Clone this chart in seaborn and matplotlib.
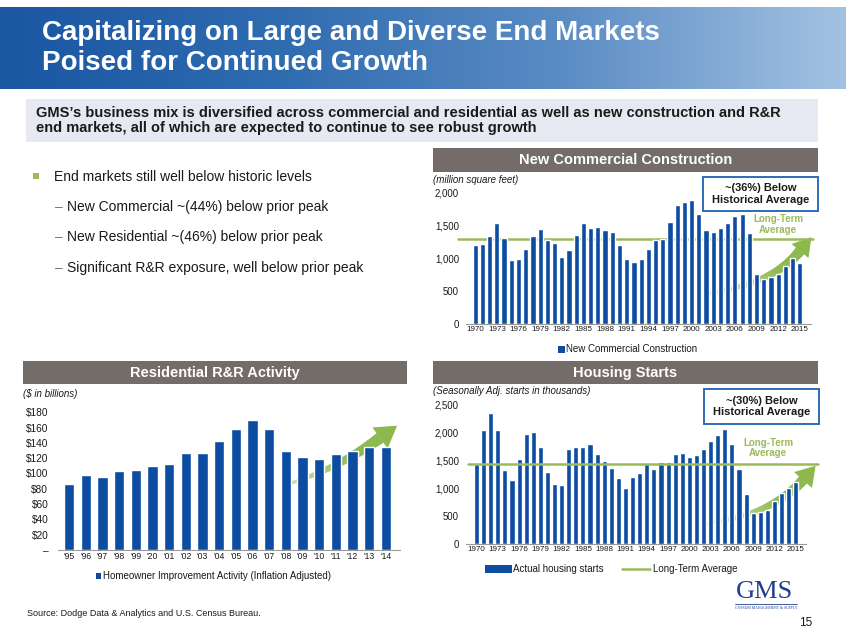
import numpy as np
import pandas as pd
import matplotlib
matplotlib.use("Agg")
import matplotlib.pyplot as plt
import seaborn as sns
from matplotlib.patches import Rectangle, Polygon
from matplotlib.lines import Line2D
from matplotlib.transforms import IdentityTransform
from matplotlib.colors import to_rgb

# ---------------- data ----------------
com_years = list(range(1970, 2016))
com_values = [1210, 1225, 1340, 1535, 1320, 975, 985, 1140, 1340, 1445,
              1275, 1240, 1030, 1125, 1360, 1535, 1465, 1480, 1430, 1410,
              1200, 990, 940, 985, 1140, 1275, 1295, 1555, 1810, 1865,
              1890, 1680, 1440, 1410, 1465, 1535, 1655, 1680, 1385, 770,
              685, 715, 770, 880, 1005, 935]
com_avg = 1292
com_yticks = [0, 500, 1000, 1500, 2000]

hs_years = list(range(1970, 2016))
hs_values = [1434, 2052, 2357, 2045, 1338, 1160, 1538, 1987, 2020, 1745,
             1292, 1084, 1062, 1703, 1750, 1742, 1805, 1621, 1488, 1376,
             1193, 1014, 1200, 1288, 1457, 1354, 1477, 1474, 1617, 1641,
             1569, 1603, 1705, 1848, 1956, 2068, 1801, 1355, 906, 554,
             587, 609, 781, 925, 1003, 1112]
hs_avg = 1445
hs_yticks = [0, 500, 1000, 1500, 2000, 2500]

rr_labels = ["'95", "'96", "'97", "'98", "'99", "'20", "'01", "'02", "'03", "'04",
             "'05", "'06", "'07", "'08", "'09", "'10", "'11", "'12", "'13", "'14"]
rr_values = [86, 98, 96, 103, 105, 110, 112, 127, 127, 143,
             158, 170, 158, 130, 122, 119, 126, 129, 134, 135]
rr_yticks = [0, 20, 40, 60, 80, 100, 120, 140, 160, 180]
rr_yticklabels = ["–", "$20", "$40", "$60", "$80", "$100", "$120", "$140", "$160", "$180"]

title_lines = ["Capitalizing on Large and Diverse End Markets",
               "Poised for Continued Growth"]
subtitle_lines = ["GMS\u2019s business mix is diversified across commercial and residential as well as new construction and R&R",
                  "end markets, all of which are expected to continue to see robust growth"]
bullet_main = "End markets still well below historic levels"
bullet_subs = ["New Commercial ~(44%) below prior peak",
               "New Residential ~(46%) below prior peak",
               "Significant R&R exposure, well below prior peak"]

# ---------------- style ----------------
W, H, DPI = 847, 635, 100
BLUE = "#0c4da2"
GREEN = "#9bbb59"
ARROW = "#8cb84c"
HEADER = "#736c68"
TXT = "#1a1a1a"

sns.set_theme(style="white")
plt.rcParams['font.family'] = ['Liberation Sans', 'DejaVu Sans']

fig = plt.figure(figsize=(W / DPI, H / DPI), dpi=DPI)
fig.patch.set_facecolor("white")


def px_axes(x0, y0, x1, y1):
    return fig.add_axes([x0 / W, 1 - y1 / H, (x1 - x0) / W, (y1 - y0) / H])


def ftext(x, y, s, **kw):
    return fig.text(x / W, 1 - y / H, s, **kw)


def frect(x0, y0, x1, y1, **kw):
    r = Rectangle((x0 / W, 1 - y1 / H), (x1 - x0) / W, (y1 - y0) / H,
                  transform=fig.transFigure, **kw)
    fig.add_artist(r)
    return r


# ---------------- title banner ----------------
ax_b = px_axes(0, 7, 845, 89)
stops = [to_rgb("#1a56a2"), to_rgb("#2f6cb0"), to_rgb("#5b8cc4"), to_rgb("#a3c2e2")]
xs = np.linspace(0, 1, 400)
sp = np.linspace(0, 1, len(stops))
grad = np.stack([np.interp(xs, sp, [c[i] for c in stops]) for i in range(3)], axis=-1)
ax_b.imshow(grad[None, :, :], aspect="auto", extent=[0, 1, 0, 1])
ax_b.set_axis_off()
ftext(42, 33, title_lines[0], color="white", fontsize=20, fontweight="bold", va="center")
ftext(42, 63, title_lines[1], color="white", fontsize=20, fontweight="bold", va="center")

# ---------------- subtitle ----------------
frect(26, 99, 818, 142, facecolor="#e6e9f2", edgecolor="none")
ftext(36, 113, subtitle_lines[0], color=TXT, fontsize=10.5, fontweight="bold", va="center")
ftext(36, 128, subtitle_lines[1], color=TXT, fontsize=10.5, fontweight="bold", va="center")

# ---------------- bullets ----------------
frect(33, 173, 39, 179, facecolor=GREEN, edgecolor="none")
ftext(54, 177, bullet_main, color=TXT, fontsize=10, va="center")
for yy, s in zip([207, 237, 268], bullet_subs):
    ftext(55, yy, "–", color="#777777", fontsize=10, va="center")
    ftext(67, yy, s, color=TXT, fontsize=10, va="center")

# ---------------- section headers ----------------
for (x0, y0, x1, y1), s in [((433, 148, 818, 172), "New Commercial Construction"),
                            ((23, 361, 407, 384), "Residential R&R Activity"),
                            ((433, 361, 818, 384), "Housing Starts")]:
    frect(x0, y0, x1, y1, facecolor=HEADER, edgecolor="none")
    ftext((x0 + x1) / 2, (y0 + y1) / 2 + 0.5, s, color="white", fontsize=10.5,
          fontweight="bold", ha="center", va="center")


# ---------------- helpers ----------------
def curved_arrow(ax, p0, c, pb, head_len, w0, w1, head_hw):
    t = np.linspace(0, 1, 80)
    P0, C, PB = np.array(p0, float), np.array(c, float), np.array(pb, float)
    pts = ((1 - t) ** 2)[:, None] * P0 + (2 * (1 - t) * t)[:, None] * C + (t ** 2)[:, None] * PB
    d = 2 * (1 - t)[:, None] * (C - P0) + 2 * t[:, None] * (PB - C)
    d /= np.linalg.norm(d, axis=1)[:, None]
    n = np.stack([-d[:, 1], d[:, 0]], axis=1)
    w = (w0 + (w1 - w0) * t ** 1.2)[:, None] / 2
    left, right = pts + n * w, pts - n * w
    light, full = np.array(to_rgb("#d4e4bb")), np.array(to_rgb(ARROW))
    for i in range(len(t) - 1):
        q = np.array([left[i], left[i + 1], right[i + 1], right[i]])
        q[:, 1] = H - q[:, 1]
        f = min(1.0, (t[i] / 0.7)) ** 0.8
        col = light * (1 - f) + full * f
        ax.add_patch(Polygon(q, closed=True, transform=IdentityTransform(), facecolor=col,
                             edgecolor=col, lw=0.4, clip_on=False, zorder=0.5))
    tip = PB + d[-1] * head_len
    head = np.array([PB + n[-1] * head_hw, tip, PB - n[-1] * head_hw])
    head[:, 1] = H - head[:, 1]
    ax.add_patch(Polygon(head, closed=True, transform=IdentityTransform(), facecolor=full,
                         edgecolor="none", clip_on=False, zorder=0.5))


def style_axes(ax, ylabels_fs, xlabels_fs, ypad, xpad):
    ax.set_xlabel("")
    ax.set_ylabel("")
    for s in ["top", "right", "left"]:
        ax.spines[s].set_visible(False)
    ax.spines["bottom"].set_color("#9a9a9a")
    ax.spines["bottom"].set_linewidth(0.8)
    ax.tick_params(axis="y", length=0, labelsize=ylabels_fs, pad=ypad, labelcolor=TXT)
    ax.tick_params(axis="x", length=0, labelsize=xlabels_fs, pad=xpad, labelcolor=TXT)
    ax.set_facecolor("none")
    ax.grid(False)


def callout(x0, y0, x1, y1, lines):
    frect(x0, y0, x1, y1, facecolor="white", edgecolor="#2e6cb5", lw=1.4, zorder=5)
    ftext((x0 + x1) / 2, (y0 + y1) / 2, "\n".join(lines), color=TXT, fontsize=8,
          fontweight="bold", ha="center", va="center", linespacing=1.15, zorder=6)


# ---------------- New Commercial Construction ----------------
ax_c = px_axes(466, 193, 811, 324)
df_c = pd.DataFrame({"year": [str(y) for y in com_years], "value": com_values})
sns.barplot(data=df_c, x="year", y="value", color=BLUE, width=0.72, saturation=1,
            errorbar=None, ax=ax_c, zorder=2)
ax_c.set_autoscale_on(False)
ax_c.set_xlim(-1.28, 46.55)
ax_c.set_ylim(0, 2000)
ax_c.set_yticks(com_yticks)
ax_c.set_yticklabels([f"{v:,}" for v in com_yticks])
ax_c.set_xticks(range(0, len(com_years), 3))
ax_c.set_xticklabels([str(y) for y in com_years[::3]])
style_axes(ax_c, 6.9, 5.8, 5, 1.5)
ax_c.plot([-2.38, 46.83], [com_avg, com_avg], color=GREEN, lw=1.8, clip_on=False, zorder=1)
curved_arrow(ax_c, (703, 294), (772, 285), (800, 251), 18, 2.5, 10, 11)
ftext(433, 180, "(million square feet)", fontsize=7, style="italic", color=TXT, va="center")
callout(703, 177, 818, 211, ["~(36%) Below", "Historical Average"])
ftext(778, 224.5, "Long-Term\nAverage", color=GREEN, fontsize=7, fontweight="bold",
      ha="center", va="center", linespacing=1.05)
frect(558, 346, 565, 353, facecolor=BLUE, edgecolor="none")
ftext(566, 349.5, "New Commercial Construction", fontsize=7, color=TXT, va="center")

# ---------------- Housing Starts ----------------
ax_h = px_axes(466, 405, 806, 544.3)
df_h = pd.DataFrame({"year": [str(y) for y in hs_years], "value": hs_values})
sns.barplot(data=df_h, x="year", y="value", color=BLUE, width=0.72, saturation=1,
            errorbar=None, ax=ax_h, zorder=2)
ax_h.set_autoscale_on(False)
ax_h.set_xlim(-1.48, 46.44)
ax_h.set_ylim(0, 2500)
ax_h.set_yticks(hs_yticks)
ax_h.set_yticklabels([f"{v:,}" for v in hs_yticks])
ax_h.set_xticks(range(0, len(hs_years), 3))
ax_h.set_xticklabels([str(y) for y in hs_years[::3]])
style_axes(ax_h, 6.9, 5.8, 5, 1.5)
ax_h.plot([-1.2, 48.1], [hs_avg, hs_avg], color=GREEN, lw=1.8, clip_on=False, zorder=3)
curved_arrow(ax_h, (704, 524), (772, 515), (803, 480), 19, 2.5, 10, 12)
ftext(433, 391, "(Seasonally Adj. starts in thousands)", fontsize=7, style="italic", color=TXT, va="center")
callout(704, 389, 819, 424, ["~(30%) Below", "Historical Average"])
ftext(768, 448, "Long-Term\nAverage", color=GREEN, fontsize=7, fontweight="bold",
      ha="center", va="center", linespacing=1.05)
frect(485, 565, 512, 573, facecolor=BLUE, edgecolor="none")
ftext(513, 569, "Actual housing starts", fontsize=7, color=TXT, va="center")
fig.add_artist(Line2D([622 / W, 650 / W], [1 - 569 / H, 1 - 569 / H], color=GREEN, lw=1.8,
                      transform=fig.transFigure))
ftext(653, 569, "Long-Term Average", fontsize=7, color=TXT, va="center")

# ---------------- Residential R&R Activity ----------------
ax_r = px_axes(58, 412.3, 400, 550)
df_r = pd.DataFrame({"year": rr_labels, "value": rr_values})
sns.barplot(data=df_r, x="year", y="value", color=BLUE, width=0.62, saturation=1,
            errorbar=None, ax=ax_r, zorder=2)
ax_r.set_autoscale_on(False)
ax_r.set_xlim(-0.67, 19.85)
ax_r.set_ylim(0, 180)
ax_r.set_yticks(rr_yticks)
ax_r.set_yticklabels(rr_yticklabels)
style_axes(ax_r, 7.3, 6.2, 7, 1.5)
curved_arrow(ax_r, (288, 484), (337, 469), (380, 438), 21, 2.5, 11, 13)
ftext(23, 394, "($ in billions)", fontsize=7, style="italic", color=TXT, va="center")
frect(96, 573, 101, 579, facecolor=BLUE, edgecolor="none")
ftext(103, 576, "Homeowner Improvement Activity (Inflation Adjusted)", fontsize=7, color=TXT, va="center")

# ---------------- footer ----------------
ftext(27, 614, "Source: Dodge Data & Analytics and U.S. Census Bureau.", fontsize=6.5, color=TXT, va="center")
ftext(806, 623, "15", fontsize=8.5, color=TXT, ha="center", va="center")
ftext(764, 592, "GMS", fontsize=19, color="#1f3e8f", family=["Liberation Serif", "DejaVu Serif"],
      ha="center", va="center")
fig.add_artist(Line2D([735 / W, 797 / W], [1 - 604 / H, 1 - 604 / H], color="#1f3e8f", lw=0.6,
                      transform=fig.transFigure))
ftext(766, 608, "GYPSUM MANAGEMENT & SUPPLY", fontsize=2.8, color="#1f3e8f",
      family=["Liberation Serif", "DejaVu Serif"], ha="center", va="center")

fig.savefig("out.png", dpi=DPI, facecolor="white")
